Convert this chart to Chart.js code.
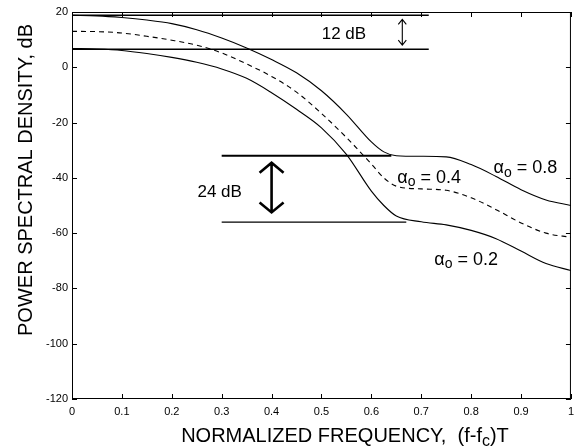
<!DOCTYPE html>
<html><head><meta charset="utf-8">
<script src="https://cdn.jsdelivr.net/npm/chart.js@4.4.1/dist/chart.umd.min.js"></script>
<style>html,body{margin:0;padding:0;background:#fff;}canvas{display:block;}</style>
</head><body>
<canvas id="c" width="580" height="448"></canvas>
<script>
// ---- data ----
const freq       = [0, 0.05, 0.1, 0.15, 0.2, 0.25, 0.3, 0.35, 0.4, 0.45, 0.5, 0.55, 0.6, 0.625, 0.65, 0.7, 0.75, 0.8, 0.85, 0.9, 0.95, 1.0];
const psdAlpha08 = [18.8, 18.6, 18.0, 17.1, 15.8, 13.6, 10.6, 7.0, 2.8, -2.0, -8.5, -17.0, -27.0, -30.6, -32.0, -32.2, -32.4, -35.2, -39.5, -44.3, -48.0, -50.0];
const psdAlpha04 = [13.0, 12.9, 12.4, 11.2, 9.8, 8.0, 5.2, 1.2, -3.3, -9.0, -16.7, -25.4, -35.0, -40.0, -43.0, -44.0, -44.5, -47.2, -51.5, -56.3, -60.0, -61.5];
const psdAlpha02 = [6.8, 6.6, 6.1, 5.0, 3.6, 1.8, -0.6, -4.0, -9.2, -15.2, -21.9, -31.5, -44.8, -50.0, -53.8, -55.9, -57.0, -59.0, -62.0, -66.5, -71.0, -73.5];

const refLevel = [18.8, 6.5, -32, -56];
const refFrom  = [0, 0, 0.3, 0.3];
const refTo    = [0.715, 0.715, 0.64, 0.67];

const arrowFreq   = [0.662, 0.40];
const arrowTop    = [17.3, -34.5];
const arrowBottom = [8.0, -52.5];
const arrowText   = ['12 dB', '24 dB'];

const yTicks = [20, 0, -20, -40, -60, -80, -100, -120];
const xTicks = [0, 0.1, 0.2, 0.3, 0.4, 0.5, 0.6, 0.7, 0.8, 0.9, 1];
const alphaValues = ['0.8', '0.4', '0.2'];

const FONT = "'Liberation Sans', Arial, Helvetica, sans-serif";
Chart.defaults.font.family = FONT;
Chart.defaults.color = '#000';

function pts(ys) { return freq.map((f, i) => ({x: f, y: ys[i]})); }

const datasets = [
  {data: pts(psdAlpha08), borderColor: '#000', borderWidth: 1.1, pointRadius: 0, cubicInterpolationMode: 'monotone', fill: false},
  {data: pts(psdAlpha04), borderColor: '#000', borderWidth: 1.1, borderDash: [5, 4], pointRadius: 0, cubicInterpolationMode: 'monotone', fill: false},
  {data: pts(psdAlpha02), borderColor: '#000', borderWidth: 1.1, pointRadius: 0, cubicInterpolationMode: 'monotone', fill: false}
];
const refWidths = [1.4, 1.4, 2.2, 1.4];
refLevel.forEach((lv, i) => {
  datasets.push({data: [{x: refFrom[i], y: lv}, {x: refTo[i], y: lv}], borderColor: '#000', borderWidth: refWidths[i], pointRadius: 0, fill: false, tension: 0});
});

function drawRuns(ctx, runs, x, y, size, align) {
  const subSize = Math.round(size * 0.78);
  let w = 0;
  runs.forEach(r => { ctx.font = (r.sub ? subSize : size) + 'px ' + FONT; r.w = ctx.measureText(r.t).width; w += r.w; });
  let cx = align === 'center' ? x - w / 2 : x;
  ctx.textAlign = 'left';
  ctx.textBaseline = 'alphabetic';
  runs.forEach(r => {
    ctx.font = (r.sub ? subSize : size) + 'px ' + FONT;
    ctx.fillText(r.t, cx, y + (r.sub ? size * 0.18 : 0));
    cx += r.w;
  });
}

const deco = {
  id: 'deco',
  afterDatasetsDraw(chart) {
    const ctx = chart.ctx, a = chart.chartArea, xs = chart.scales.x, ys = chart.scales.y;
    ctx.save();
    ctx.strokeStyle = '#000'; ctx.fillStyle = '#000';
    // frame
    ctx.lineWidth = 1;
    ctx.strokeRect(a.left + 0.5, a.top + 0.5, a.right - a.left - 1, a.bottom - a.top - 1);
    // inward ticks
    ctx.beginPath();
    yTicks.forEach(v => {
      const py = Math.round(ys.getPixelForValue(v)) + 0.5;
      ctx.moveTo(a.left, py); ctx.lineTo(a.left + 5, py);
      ctx.moveTo(a.right, py); ctx.lineTo(a.right - 5, py);
    });
    xTicks.forEach(v => {
      const px = Math.round(xs.getPixelForValue(v)) + 0.5;
      ctx.moveTo(px, a.bottom); ctx.lineTo(px, a.bottom - 5);
      ctx.moveTo(px, a.top); ctx.lineTo(px, a.top + 5);
    });
    ctx.stroke();
    // arrows
    const headW = [4, 12], headH = [5, 10], lw = [1.1, 2.6];
    arrowFreq.forEach((f, i) => {
      const px = xs.getPixelForValue(f), t = ys.getPixelForValue(arrowTop[i]), b = ys.getPixelForValue(arrowBottom[i]);
      ctx.lineWidth = lw[i];
      ctx.lineJoin = 'miter';
      ctx.beginPath();
      ctx.moveTo(px, t); ctx.lineTo(px, b);
      ctx.moveTo(px - headW[i], t + headH[i]); ctx.lineTo(px, t); ctx.lineTo(px + headW[i], t + headH[i]);
      ctx.moveTo(px - headW[i], b - headH[i]); ctx.lineTo(px, b); ctx.lineTo(px + headW[i], b - headH[i]);
      ctx.stroke();
    });
    // annotation texts
    drawRuns(ctx, [{t: arrowText[0]}], xs.getPixelForValue(0.545), ys.getPixelForValue(12.4) + 6, 17, 'center');
    drawRuns(ctx, [{t: arrowText[1]}], xs.getPixelForValue(0.296), ys.getPixelForValue(-44.9) + 6, 17, 'center');
    const alphaPos = [[0.845, -36.2], [0.652, -39.6], [0.726, -69.4]];
    alphaValues.forEach((v, i) => {
      drawRuns(ctx, [{t: 'α'}, {t: 'o', sub: true}, {t: ' = ' + v}], xs.getPixelForValue(alphaPos[i][0]), ys.getPixelForValue(alphaPos[i][1]) + 6, 18, 'left');
    });
    // axis titles
    drawRuns(ctx, [{t: 'NORMALIZED FREQUENCY,  (f-f'}, {t: 'c', sub: true}, {t: ')T'}], 345, 442, 20, 'center');
    ctx.save();
    ctx.translate(32, 180);
    ctx.rotate(-Math.PI / 2);
    drawRuns(ctx, [{t: 'POWER SPECTRAL DENSITY, dB'}], 0, 0, 20, 'center');
    ctx.restore();
    ctx.restore();
  }
};

new Chart(document.getElementById('c'), {
  type: 'line',
  data: {datasets},
  options: {
    responsive: false,
    animation: false,
    devicePixelRatio: 1,
    layout: {padding: {top: 12, right: 5, left: 0, bottom: 0}},
    plugins: {legend: {display: false}, tooltip: {enabled: false}},
    scales: {
      x: {
        type: 'linear', min: 0, max: 1,
        afterBuildTicks: s => { s.ticks = xTicks.map(v => ({value: v})); },
        ticks: {padding: 6, font: {size: 11}, maxRotation: 0, autoSkip: false,
                callback: v => (v === 0 || v === 1) ? String(v) : v.toFixed(1)},
        grid: {display: false, drawTicks: false},
        border: {display: false},
        afterFit: s => { s.height = 49; }
      },
      y: {
        type: 'linear', min: -120, max: 20,
        afterBuildTicks: s => { s.ticks = yTicks.map(v => ({value: v})); },
        ticks: {padding: 4, font: {size: 11}, autoSkip: false},
        grid: {display: false, drawTicks: false},
        border: {display: false},
        afterFit: s => { s.width = 72; }
      }
    }
  },
  plugins: [deco]
});
</script>
</body></html>
